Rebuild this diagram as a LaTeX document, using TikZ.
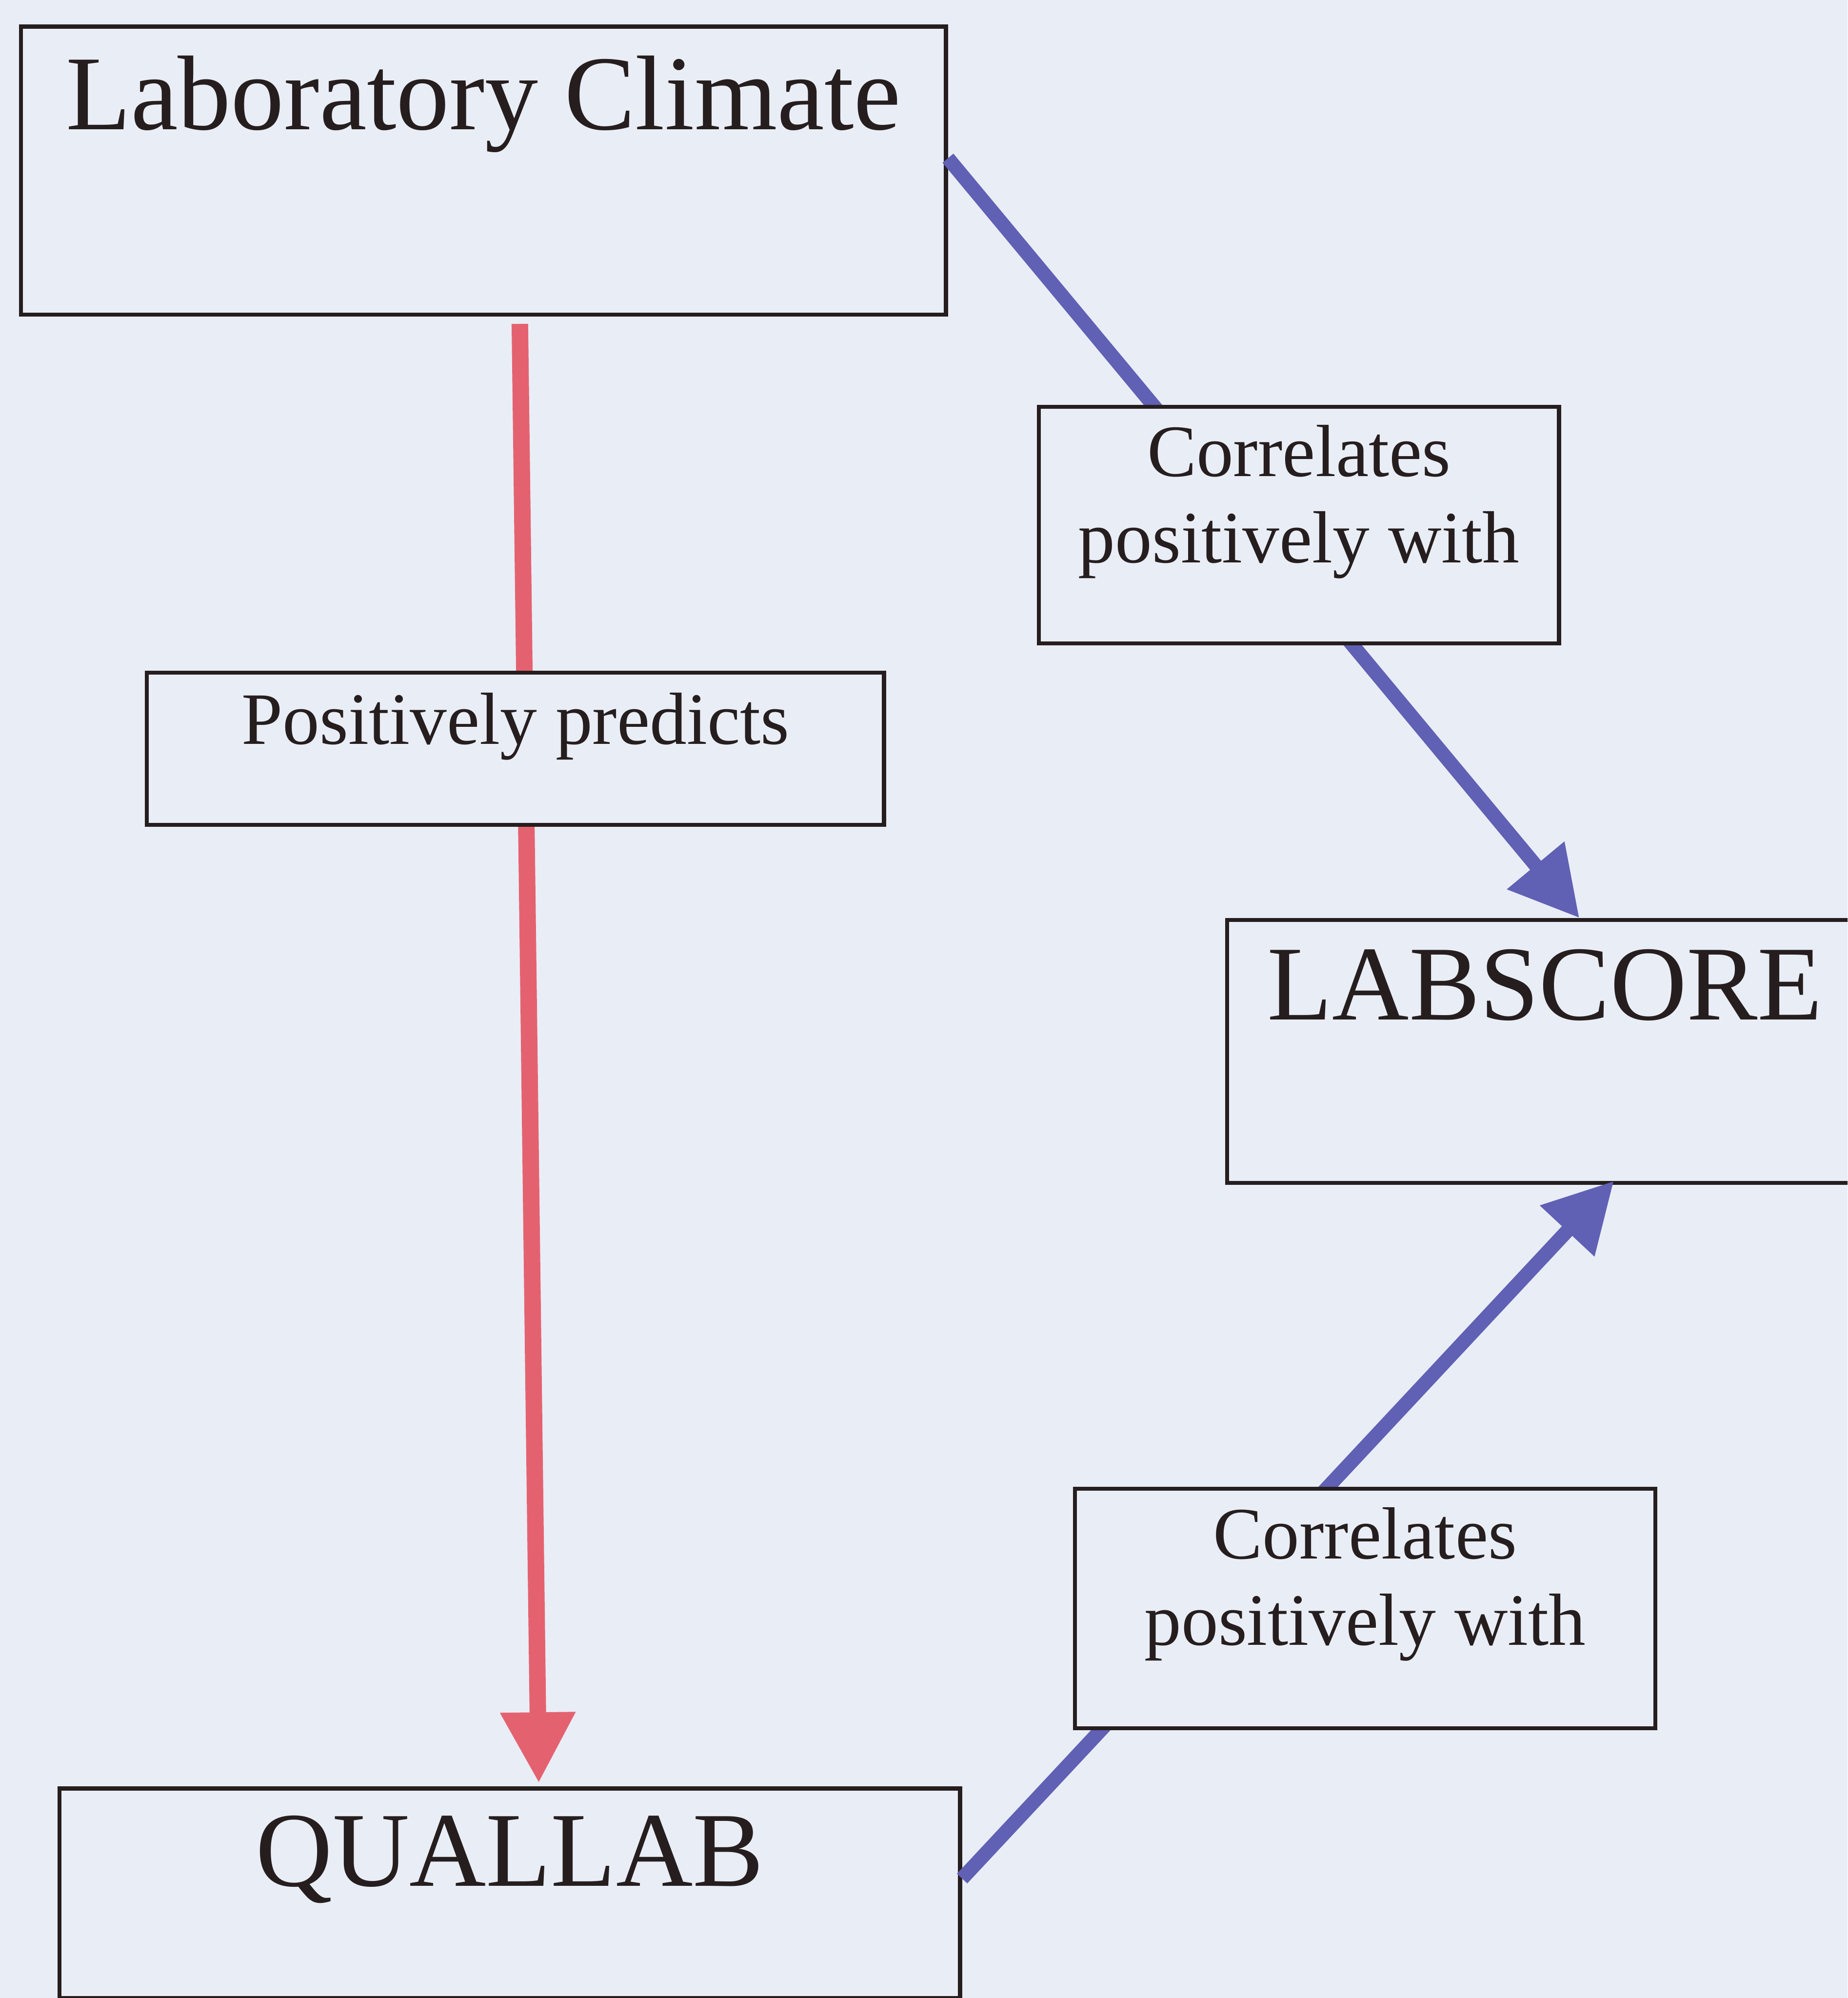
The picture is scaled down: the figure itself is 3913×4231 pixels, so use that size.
\documentclass[tikz,border=0pt]{standalone}
\usepackage{fontspec}
\setmainfont{Liberation Serif}
\usetikzlibrary{arrows.meta,calc}
\definecolor{bg}{RGB}{233,237,246}
\definecolor{redline}{RGB}{228,98,112}
\definecolor{blueline}{RGB}{96,96,180}
\definecolor{ink}{RGB}{38,30,30}
\begin{document}
\begin{tikzpicture}[x=0.01cm,y=-0.01cm,
  box/.style={draw=ink, line width=0.085cm, fill=bg, inner sep=0pt, anchor=north west, text=ink},
  bigtext/.style={font=\fontsize{64}{76}\selectfont},
  labeltext/.style={font=\fontsize{44.5}{52}\selectfont},
  redarrow/.style={draw=redline, line width=0.35cm, -{Triangle[length=1.5cm,width=1.5cm]}},
  bluearrow/.style={draw=blueline, line width=0.3cm, -{Triangle[length=1.45cm,width=1.5cm]}}]
\clip (0,0) rectangle (3913,4231);
\fill[bg] (0,0) rectangle (3913,4231);
\useasboundingbox (0,0) rectangle (3913,4231);

% main boxes
\node[box, bigtext, minimum width=19.58cm, text height=2.18cm, text depth=3.92cm] (lc) at (40,52) {Laboratory Climate};
\node[box, bigtext, minimum width=13.45cm, text height=2.11cm, text depth=3.45cm] (ls) at (2595,1944) {LABSCORE};
\node[box, bigtext, minimum width=19.06cm, text height=2.07cm, text depth=2.37cm] (ql) at (122,3783) {QUALLAB};

% connectors
\draw[redarrow] ($(lc.south west)+(1061,15)$) -- ($(ql.north west)+(1019,-7)$);
\draw[bluearrow] ($(lc.north east)+(0,283)$) -- ($(ls.north west)+(750,0)$);
\draw[bluearrow] ($(ql.north east)+(0,195)$) -- ($(ls.south west)+(823,-8)$);

% label boxes
\node[box, labeltext, minimum width=15.6cm, text height=1.51cm, text depth=1.71cm] (pp) at (307,1420) {Positively predicts};
\node[box, labeltext, minimum width=11.01cm, text height=1.47cm, text depth=3.54cm] (c1) at (2196,857) {\parbox[t]{10.5cm}{\centering Correlates\\positively with}};
\node[box, labeltext, minimum width=12.29cm, text height=1.48cm, text depth=3.59cm] (c2) at (2272,3148) {\parbox[t]{11cm}{\centering Correlates\\positively with}};
\end{tikzpicture}
\end{document}
